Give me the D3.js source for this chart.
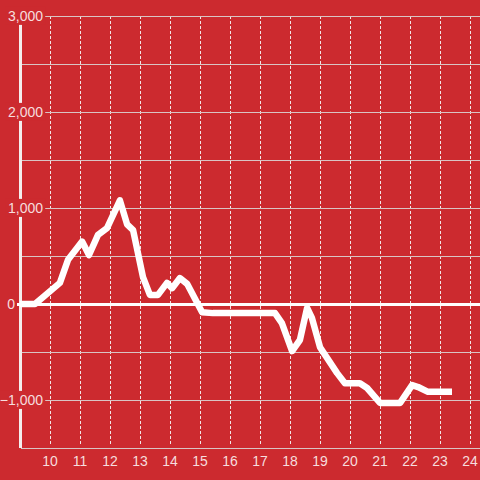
<!DOCTYPE html>
<html>
<head>
<meta charset="utf-8">
<script src="https://cdn.jsdelivr.net/npm/d3@7"></script>
<style>
  html, body { margin: 0; padding: 0; background: #cc2a2f; }
  svg { display: block; }
</style>
</head>
<body>
<svg id="chart" width="480" height="480"></svg>
<script>
// ---- data ----
const xValues = [9.0, 9.5, 10.33, 10.6, 11.07, 11.3, 11.6, 11.9, 12.33, 12.57, 12.77, 13.1, 13.33, 13.6, 13.9, 14.07, 14.33, 14.57, 15.07, 15.43, 17.5, 17.73, 18.07, 18.33, 18.57, 18.73, 19.0, 19.57, 19.83, 20.33, 20.57, 21.0, 21.67, 22.07, 22.27, 22.6, 23.4];
const yValues = [0, 0, 220, 460, 650, 510, 720, 790, 1080, 830, 770, 280, 95, 95, 220, 165, 270, 210, -85, -95, -95, -200, -490, -375, -40, -145, -450, -720, -825, -825, -875, -1030, -1030, -845, -865, -915, -915];
const xTicks = [10, 11, 12, 13, 14, 15, 16, 17, 18, 19, 20, 21, 22, 23, 24];
const yLabelTicks = [3000, 2000, 1000, 0, -1000];
const yGridTicks = [2500, 1500, 500, -500, -1500];

// ---- layout ----
const svg = d3.select("#chart");
const W = 480, H = 480;
const x = d3.scaleLinear().domain([9, 24.333]).range([20, 480]);
const y = d3.scaleLinear().domain([-1500, 3000]).range([448, 16]);
const bg = "#cc2a2f";
const labelColor = "rgba(255,255,255,0.85)";

svg.append("rect").attr("width", W).attr("height", H).attr("fill", bg);

// vertical dashed gridlines
svg.append("g").selectAll("line").data(xTicks).join("line")
  .attr("x1", d => x(d) + 0.5).attr("x2", d => x(d) + 0.5)
  .attr("y1", y(3000)).attr("y2", y(-1500) - 2)
  .attr("stroke", "#f2e6e6").attr("stroke-width", 1)
  .attr("stroke-dasharray", "3,2");

// horizontal gridlines (unlabeled + labeled)
svg.append("g").selectAll("line").data(yGridTicks.concat(yLabelTicks.filter(d => d !== 0))).join("line")
  .attr("x1", 21).attr("x2", W)
  .attr("y1", d => Math.round(y(d)) + 0.5).attr("y2", d => Math.round(y(d)) + 0.5)
  .attr("stroke", "#d9c4c4").attr("stroke-width", 1.2);

// y axis line
svg.append("line")
  .attr("x1", 20.5).attr("x2", 20.5)
  .attr("y1", y(3000)).attr("y2", y(-1500))
  .attr("stroke", "#f4eeee").attr("stroke-width", 3);

// y labels with background that masks axis / grid
const yl = svg.append("g").selectAll("g").data(yLabelTicks).join("g");
yl.each(function(d) {
  const g = d3.select(this);
  const t = g.append("text")
    .attr("x", d === 0 ? 15 : 43).attr("y", y(d))
    .attr("dy", "0.35em")
    .attr("text-anchor", "end")
    .attr("font-family", "'Liberation Sans', Arial, sans-serif")
    .attr("font-size", 14)
    .attr("fill", labelColor)
    .text(d3.format(",")(d));
  if (d !== 0) {
    const bb = t.node().getBBox();
    g.insert("rect", "text")
      .attr("x", bb.x - 2).attr("y", bb.y - 1)
      .attr("width", bb.width + 4).attr("height", bb.height + 2)
      .attr("fill", bg);
  }
});

// zero line
svg.append("line")
  .attr("x1", 17).attr("x2", W)
  .attr("y1", y(0) + 0.5).attr("y2", y(0) + 0.5)
  .attr("stroke", "#ffffff").attr("stroke-width", 3);

// x labels
svg.append("g").selectAll("text").data(xTicks).join("text")
  .attr("x", d => x(d)).attr("y", 466)
  .attr("text-anchor", "middle")
  .attr("font-family", "'Liberation Sans', Arial, sans-serif")
  .attr("font-size", 14)
  .attr("fill", labelColor)
  .text(d => d);

// data line
const pts = xValues.map((v, i) => [v, yValues[i]]);
svg.append("path")
  .datum(pts)
  .attr("fill", "none")
  .attr("stroke", "#ffffff")
  .attr("stroke-width", 6.5)
  .attr("stroke-linejoin", "round")
  .attr("d", d3.line().x(d => x(d[0])).y(d => y(d[1])));
</script>
</body>
</html>
